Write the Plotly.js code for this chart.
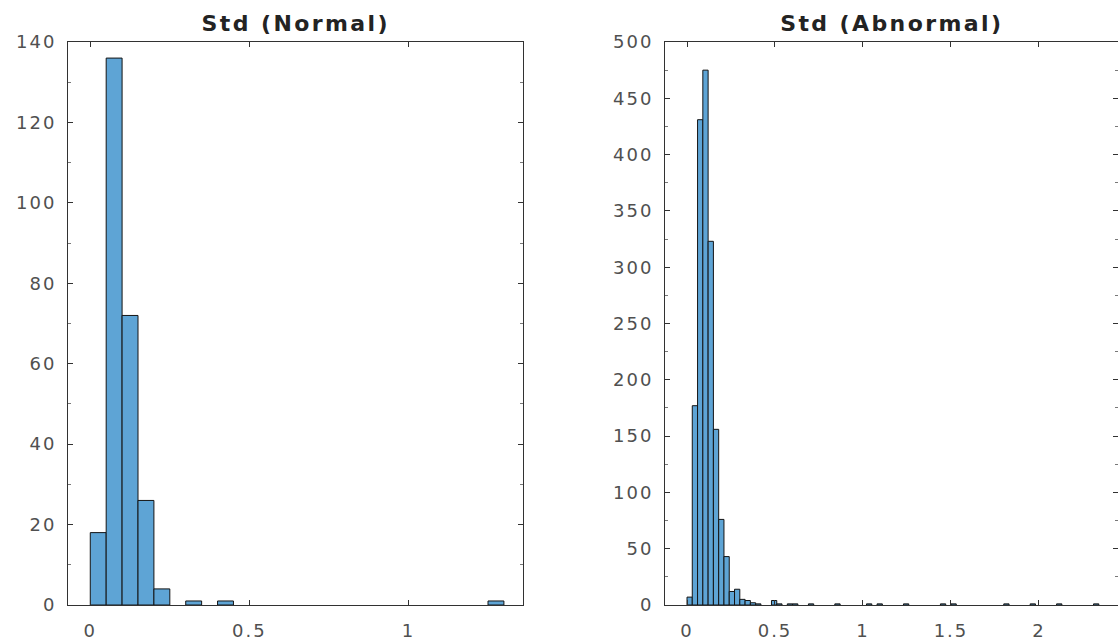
<!DOCTYPE html>
<html>
<head>
<meta charset="utf-8">
<script src="https://cdn.plot.ly/plotly-3.0.1.min.js"></script>
<style>
  html, body { margin: 0; padding: 0; background: #ffffff; }
  #chart { width: 1118px; height: 644px; }
  #chart .xtick text, #chart .x2tick text, #chart .ytick text, #chart .y2tick text { letter-spacing: 2px; }
  #chart .annotation-text { letter-spacing: 2.4px; }
</style>
</head>
<body>
<div id="chart"></div>
<script>
// ---- Data ----
// Std (Normal): bin width 0.05
const normalBinWidth = 0.05;
const normalBinStart = [0.00, 0.05, 0.10, 0.15, 0.20, 0.30, 0.40, 1.25];
const normalCounts   = [18,   136,  72,   26,   4,    1,    1,    1];

// Std (Abnormal): bin width 0.03
const abnormalBinWidth = 0.03;
const abnormalBinStart = [0.00, 0.03, 0.06, 0.09, 0.12, 0.15, 0.18, 0.21, 0.24, 0.27,
                          0.30, 0.33, 0.36, 0.39, 0.48, 0.51, 0.57, 0.60, 0.69, 0.84,
                          1.02, 1.08, 1.23, 1.44, 1.50, 1.80, 1.95, 2.10, 2.31];
const abnormalCounts   = [7,    177,  431,  475,  323,  156,  76,   43,   12,   14,
                          5,    4,    2,    1,    4,    1,    1,    1,    1,    1,
                          1,    1,    1,    1,    1,    1,    1,    1,    1];

const titles = ['Std (Normal)', 'Std (Abnormal)'];
const normalXTicks = [0, 0.5, 1];
const abnormalXTicks = [0, 0.5, 1, 1.5, 2];
const normalYTicks = [0, 20, 40, 60, 80, 100, 120, 140];
const abnormalYTicks = [0, 50, 100, 150, 200, 250, 300, 350, 400, 450, 500];

// ---- Styles ----
const fill = 'rgb(94,164,213)';
const edge = 'rgb(20,20,20)';
const axisColor = 'rgb(50,50,50)';
const tickFont = { family: 'DejaVu Sans, Verdana, sans-serif', size: 18, color: 'rgb(80,80,80)' };
const titleFont = { family: 'DejaVu Sans, Verdana, sans-serif', size: 22, color: 'rgb(35,35,35)' };

function centers(starts, w) { return starts.map(s => s + w / 2); }

const traces = [
  {
    type: 'bar', x: centers(normalBinStart, normalBinWidth), y: normalCounts,
    width: normalBinWidth, xaxis: 'x', yaxis: 'y',
    marker: { color: fill, line: { color: edge, width: 1 } },
    hoverinfo: 'x+y', showlegend: false
  },
  {
    type: 'bar', x: centers(abnormalBinStart, abnormalBinWidth), y: abnormalCounts,
    width: abnormalBinWidth, xaxis: 'x2', yaxis: 'y2',
    marker: { color: fill, line: { color: edge, width: 1 } },
    hoverinfo: 'x+y', showlegend: false
  }
];

function xa(domain, range, ticks, anchor) {
  return {
    domain: domain, range: range, anchor: anchor,
    tickmode: 'array', tickvals: ticks, ticktext: ticks.map(String),
    ticks: 'inside', ticklen: 5, tickcolor: axisColor, tickwidth: 1,
    ticklabelstandoff: 9,
    showline: true, linecolor: axisColor, linewidth: 1, mirror: 'ticks',
    showgrid: false, zeroline: false, tickfont: tickFont, fixedrange: true
  };
}
function ya(domain, range, ticks, anchor, minorStep) {
  return {
    domain: domain, range: range, anchor: anchor,
    tickmode: 'array', tickvals: ticks, ticktext: ticks.map(String),
    ticks: 'inside', ticklen: 5, tickcolor: axisColor, tickwidth: 1,
    ticklabelstandoff: 7,
    minor: { ticks: 'inside', ticklen: 3, dtick: minorStep, tickcolor: 'rgb(120,120,120)', showgrid: false },
    showline: true, linecolor: axisColor, linewidth: 1, mirror: 'ticks',
    showgrid: false, zeroline: false, tickfont: tickFont, fixedrange: true
  };
}

const yDom = [39 / 644, 602 / 644];

const layout = {
  width: 1118, height: 644,
  margin: { l: 0, r: 0, t: 0, b: 0 },
  paper_bgcolor: '#ffffff', plot_bgcolor: '#ffffff',
  bargap: 0,
  xaxis:  xa([68 / 1118, 523 / 1118], [-0.07, 1.36], normalXTicks, 'y'),
  yaxis:  ya(yDom, [0, 140], normalYTicks, 'x', 10),
  xaxis2: xa([665 / 1118, 1.0], [-0.125, 2.449], abnormalXTicks, 'y2'),
  yaxis2: ya(yDom, [0, 500], abnormalYTicks, 'x2', 25),
  annotations: [
    { text: '<b>' + titles[0] + '</b>', xref: 'paper', yref: 'paper',
      x: (68 + 523) / 2 / 1118, y: 1 - 24 / 644, xanchor: 'center', yanchor: 'middle',
      showarrow: false, font: titleFont },
    { text: '<b>' + titles[1] + '</b>', xref: 'paper', yref: 'paper',
      x: (665 + 1118) / 2 / 1118, y: 1 - 24 / 644, xanchor: 'center', yanchor: 'middle',
      showarrow: false, font: titleFont }
  ]
};

Plotly.newPlot('chart', traces, layout, { displayModeBar: false, staticPlot: true });
</script>
</body>
</html>
